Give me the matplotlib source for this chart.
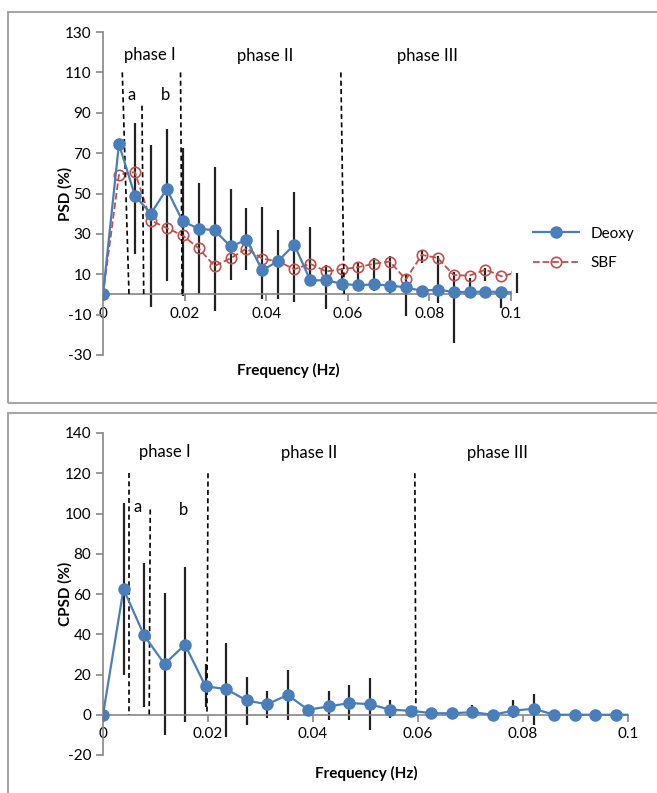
import numpy as np
import matplotlib
matplotlib.use("Agg")
import matplotlib.pyplot as plt
from matplotlib.patches import Rectangle

plt.rcParams['font.family'] = ['Lato', 'DejaVu Sans']
plt.rcParams['axes.unicode_minus'] = False

# frequency bins (Hz), k/256
freq = [k / 256 for k in range(27)]

# --- top panel: PSD (%) ---
psd_deoxy = [0, 74.5, 49, 40, 52.2, 36.2, 32.6, 31.8, 23.8, 27, 12, 16.6, 24.7,
             7, 7, 5.3, 4.5, 5, 4.4, 3.5, 1.8, 2.4, 1.2, 1.2, 1.4, 1.2, 1.0]
psd_sbf = [0, 59.3, 60.6, 36.6, 32.9, 29.2, 22.9, 14.1, 17.9, 22.7, 17.7, 16.4, 12.5,
           15.2, 11.4, 12.5, 13.5, 15.2, 16.3, 7.4, 19.6, 18.1, 9.6, 9.3, 12.3, 9.0, 11.0]
psd_bar_lo = [0, 0, 20, -6, 6.6, -1, 0, -8, 7, 12, -2.5, -2.5, -3.8,
              7, -7, 3, 1.5, 1.5, 0, -10.8, 15.5, -4, -24, 3, 6.6, -6.7, 0.5]
psd_bar_hi = [0, 0, 85, 74, 82, 72.7, 55, 63.3, 52, 43, 43.4, 31.7, 50.5,
              33.2, 14.6, 13, 15.5, 18, 18.8, 9.8, 22, 19, 11.3, 8, 13, 0.8, 10.5]

# --- bottom panel: CPSD (%) ---
cpsd_deoxy = [0, 62.5, 39.5, 25.2, 34.8, 14.1, 12.8, 7.1, 5.2, 9.8, 2.5, 4.1, 5.8,
              5.3, 2.5, 2, 0.8, 0.7, 1.3, 0, 2, 3, 0, 0, 0, 0, 0]
cpsd_bar_lo = [0, 20, 4, -10, -3.5, 4, -11, -5.3, -1.7, -2.8, 1, -2.5, -2.8,
               -7.8, -1.7, 0.5, 0, 0, -1.2, 0, -1.7, -5, 0, 0, 0, 0, 0]
cpsd_bar_hi = [0, 105, 75.4, 60.5, 73.2, 25, 35.6, 18.7, 12, 22, 4, 11.6, 14.6,
               18.2, 7.1, 3.5, 1.5, 1.5, 5, 0, 7.1, 10.4, 0, 0, 0, 0, 0]

# phase boundaries: (x at top, x at bottom, top value)
psd_bounds = [(0.00473, 0.00637, 110), (0.00955, 0.00998, 93.5),
              (0.0190, 0.0194, 110), (0.0583, 0.0591, 110)]
cpsd_bounds = [(0.0050, 0.0050, 120), (0.0090, 0.0088, 102),
               (0.0200, 0.0198, 120), (0.0594, 0.0596, 120)]

psd_labels = [("phase I", 0.0115, 118.5), ("phase II", 0.0397, 118),
              ("phase III", 0.0794, 118), ("a", 0.0071, 99), ("b", 0.0154, 99)]
cpsd_labels = [("phase I", 0.0118, 130.5), ("phase II", 0.0393, 130),
               ("phase III", 0.0752, 130), ("a", 0.0066, 103), ("b", 0.0153, 101.5)]

xticks = [0, 0.02, 0.04, 0.06, 0.08, 0.1]
xticklabels = ["0", "0.02", "0.04", "0.06", "0.08", "0.1"]

blue = '#4a7ebb'
red = '#c0504d'
axis_gray = '#868686'

fig = plt.figure(figsize=(6.57, 7.93), dpi=100)

# panel frames
for (y0, y1) in [(403, 12), (800, 413)]:
    fig.patches.append(Rectangle((8 / 657, 1 - y0 / 793), 1.2, (y0 - y1) / 793,
                                 transform=fig.transFigure, fill=False,
                                 edgecolor='#a6a6a6', lw=1.5))


def style_axis(ax, ylim, yticks):
    ax.set_xlim(0, 0.1)
    ax.set_ylim(*ylim)
    ax.set_yticks(yticks)
    ax.set_xticks(xticks)
    ax.set_xticklabels(xticklabels)
    for s in ['top', 'right']:
        ax.spines[s].set_visible(False)
    ax.spines['bottom'].set_position(('data', 0))
    ax.spines['left'].set_color(axis_gray)
    ax.spines['bottom'].set_color(axis_gray)
    ax.spines['left'].set_linewidth(1.2)
    ax.spines['bottom'].set_linewidth(1.2)
    ax.tick_params(axis='both', colors=axis_gray, labelcolor='black',
                   labelsize=11, length=5, width=1.2, direction='out')
    ax.tick_params(axis='x', pad=4)


# top panel
ax1 = fig.add_axes([103 / 657, 1 - 355 / 793, 408 / 657, 323 / 793])
ax1.vlines(freq, psd_bar_lo, psd_bar_hi, colors='#222222', lw=1.6, zorder=2,
           clip_on=False)
ax1.plot(freq, psd_deoxy, '-o', color=blue, lw=1.6, ms=8, label='Deoxy', zorder=4)
ax1.plot(freq, psd_sbf, '--o', color=red, lw=1.3, ms=7.5, mfc='none', mew=1.2,
         label='SBF', zorder=3)
for x0, x1, top in psd_bounds:
    ax1.plot([x0, x1], [top, 0], ls=(0, (3, 2)), color='black', lw=1.2, zorder=3)
for txt, x, y in psd_labels:
    ax1.text(x, y, txt, ha='center', va='center', fontsize=12)
style_axis(ax1, (-30, 130), range(-30, 131, 20))
ax1.legend(loc='center left', bbox_to_anchor=(1.02, 0.33), frameon=False,
           fontsize=11, handlelength=3, labelspacing=1.0)
ax1.set_ylabel('PSD (%)', fontsize=11, fontweight='bold')
ax1.yaxis.set_label_coords(-30 / 408, 0.5)
fig.text(288 / 657, 1 - 370 / 793, 'Frequency (Hz)', ha='center', va='center',
         fontsize=11, fontweight='bold')

# bottom panel
ax2 = fig.add_axes([103 / 657, 1 - 755 / 793, 525 / 657, 322 / 793])
ax2.vlines(freq, cpsd_bar_lo, cpsd_bar_hi, colors='#222222', lw=1.6, zorder=2)
ax2.plot(freq, cpsd_deoxy, '-o', color=blue, lw=1.6, ms=8, zorder=4)
for x0, x1, top in cpsd_bounds:
    ax2.plot([x0, x1], [top, 0], ls=(0, (3, 2)), color='black', lw=1.2, zorder=3)
for txt, x, y in cpsd_labels:
    ax2.text(x, y, txt, ha='center', va='center', fontsize=12)
style_axis(ax2, (-20, 140), range(-20, 141, 20))
ax2.set_ylabel('CPSD (%)', fontsize=11, fontweight='bold')
ax2.yaxis.set_label_coords(-30 / 525, 0.5)
fig.text(366 / 657, 1 - 773 / 793, 'Frequency (Hz)', ha='center', va='center',
         fontsize=11, fontweight='bold')

fig.savefig('out.png', dpi=100)
